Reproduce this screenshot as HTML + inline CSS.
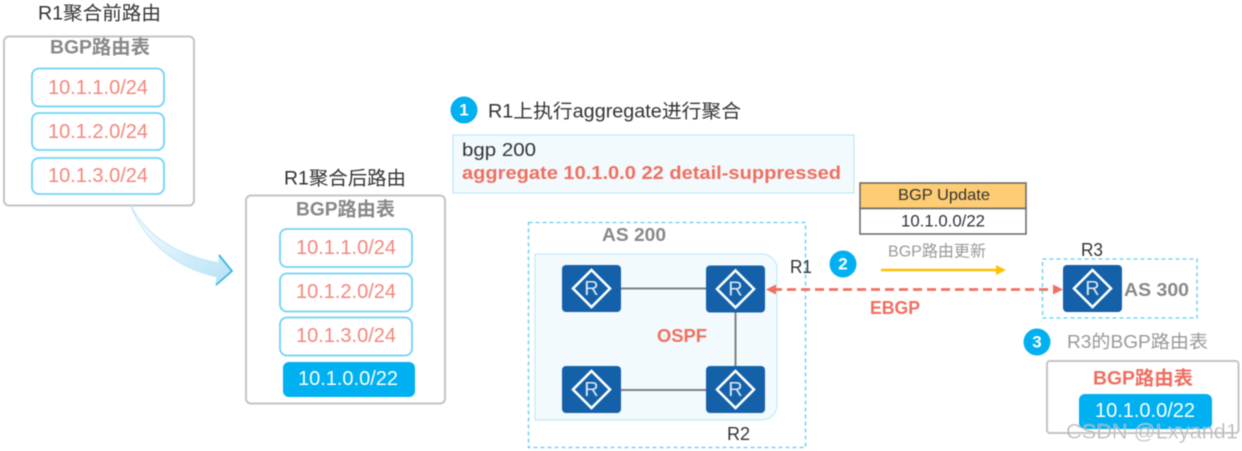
<!DOCTYPE html>
<html><head><meta charset="utf-8">
<style>
html,body{margin:0;padding:0;background:#fff;width:1242px;height:451px;overflow:hidden}
svg{display:block;filter:blur(.5px)}
text{font-family:"Liberation Sans","Noto Sans CJK SC",sans-serif;dominant-baseline:central}
.t{fill:#333;font-size:19px}
.g{fill:#888;font-size:19px;font-weight:bold}
.r{fill:#f4877c;font-size:20px;text-anchor:middle}
.w{fill:#fff;font-size:20px;text-anchor:middle}
.row{fill:#fff;stroke:#6fd3f7;stroke-width:1.8}
.box{fill:#fff;stroke:#c4c4c4;stroke-width:2}
.blue{fill:#00b0f0}
.num{fill:#fff;font-size:17px;font-weight:bold;text-anchor:middle}
.red{fill:#ef6f60;font-weight:bold;font-size:18px}
</style></head><body>
<svg width="1242" height="451" viewBox="0 0 1242 451" xmlns="http://www.w3.org/2000/svg">
<defs>
<linearGradient id="ag" x1="0" y1="0" x2="1" y2="1"><stop offset="0" stop-color="#fff"/><stop offset="1" stop-color="#b5e2f5"/></linearGradient>
<g id="rt">
<rect width="59" height="47" rx="4" fill="#1461aa"/>
<path d="M29.5 5 L48 23.5 L29.5 42 L11 23.5Z" fill="none" stroke="#fff" stroke-width="2.600"/>
<text x="29.5" y="24" fill="#dbe9f5" font-size="20" text-anchor="middle" style="font-family:'Liberation Sans',sans-serif">R</text>
</g>
</defs>

<!-- Left table -->
<text class="t" x="38" y="14" textLength="123" lengthAdjust="spacingAndGlyphs">R1聚合前路由</text>
<rect class="box" x="4" y="36.500" width="190" height="169" rx="5"/>
<text class="g" x="50" y="48" textLength="100" lengthAdjust="spacingAndGlyphs">BGP路由表</text>
<rect class="row" x="32" y="68.500" width="132" height="38" rx="7"/>
<text class="r" x="98" y="88">10.1.1.0/24</text>
<rect class="row" x="32" y="113" width="132" height="37" rx="7"/>
<text class="r" x="98" y="132">10.1.2.0/24</text>
<rect class="row" x="32" y="158" width="132" height="36" rx="7"/>
<text class="r" x="98" y="176">10.1.3.0/24</text>

<!-- Curved arrow -->
<path d="M130 204 C146 237 180 256 219 263 L219 255 L232 271 L216 285 L217 277 C178 268 146 245 130 204Z" fill="url(#ag)" stroke="#bfe6f6" stroke-width="1"/>
<path d="M219 255 L232 271 L216 285" fill="none" stroke="#3fb6e6" stroke-width="1.800"/>

<!-- Right table -->
<text class="t" x="284" y="179" textLength="122" lengthAdjust="spacingAndGlyphs">R1聚合后路由</text>
<rect class="box" x="246" y="195.500" width="199" height="208" rx="5"/>
<text class="g" x="296" y="210" textLength="99" lengthAdjust="spacingAndGlyphs">BGP路由表</text>
<rect class="row" x="280" y="229" width="132" height="38" rx="7"/>
<text class="r" x="346" y="248">10.1.1.0/24</text>
<rect class="row" x="280" y="273.500" width="132" height="38" rx="7"/>
<text class="r" x="346" y="292">10.1.2.0/24</text>
<rect class="row" x="280" y="317.500" width="132" height="38" rx="7"/>
<text class="r" x="346" y="336">10.1.3.0/24</text>
<rect class="blue" x="283" y="362" width="132" height="35" rx="6"/>
<text class="w" x="348" y="379">10.1.0.0/22</text>

<!-- Step 1 -->
<circle class="blue" cx="464" cy="110" r="13.500"/>
<text class="num" x="464" y="110">1</text>
<text class="t" x="488" y="112" textLength="253" lengthAdjust="spacingAndGlyphs">R1上执行aggregate进行聚合</text>
<rect x="453" y="135" width="401" height="58" fill="#f2fafe" stroke="#bde8fa" stroke-width="1.200"/>
<text x="462" y="150" fill="#333" font-size="18" textLength="74" lengthAdjust="spacingAndGlyphs">bgp 200</text>
<text class="red" x="462" y="173" textLength="379" lengthAdjust="spacingAndGlyphs">aggregate 10.1.0.0 22 detail-suppressed</text>

<!-- AS 200 -->
<path d="M535 254 H762 a15 15 0 0 1 15 15 V405 a15 15 0 0 1 -15 15 H535Z" fill="#f3fafd" stroke="#c3e9fa" stroke-width="1.200"/>
<rect x="528.500" y="222.500" width="277" height="225" fill="none" stroke="#5ccdf5" stroke-width="1.300" stroke-dasharray="4 3"/>
<text x="602" y="235" fill="#888" font-size="18" font-weight="bold" textLength="64" lengthAdjust="spacingAndGlyphs">AS 200</text>
<g stroke="#808080" stroke-width="2" fill="none">
<path d="M620 288.500 H707"/>
<path d="M735.500 311 V367"/>
<path d="M620 390 H707"/>
</g>
<use href="#rt" x="562" y="265"/>
<use href="#rt" x="706" y="265.500"/>
<use href="#rt" x="562" y="366"/>
<use href="#rt" x="706" y="366"/>
<text class="red" x="657" y="336" font-size="19" textLength="50" lengthAdjust="spacingAndGlyphs">OSPF</text>
<text class="t" x="790" y="267" style="font-size:18px" textLength="22" lengthAdjust="spacingAndGlyphs">R1</text>
<text class="t" x="727" y="434" style="font-size:18px" textLength="23" lengthAdjust="spacingAndGlyphs">R2</text>

<!-- EBGP link -->
<path d="M773 289.500 H1054" stroke="#ef6f60" stroke-width="2.800" stroke-dasharray="9 5" fill="none"/>
<path d="M766 289.500 L776 284.500 V294.500Z" fill="#ef6f60"/>
<path d="M1063 289.500 L1053 284.500 V294.500Z" fill="#ef6f60"/>
<text class="red" x="870" y="308" textLength="50" lengthAdjust="spacingAndGlyphs">EBGP</text>

<!-- Step 2 -->
<circle class="blue" cx="843" cy="264" r="13.500"/>
<text class="num" x="843" y="264">2</text>
<rect x="860" y="183" width="166" height="25.500" fill="#fdcc73" stroke="#666" stroke-width="1.500"/>
<rect x="860" y="208.500" width="166" height="25.500" fill="#fff" stroke="#666" stroke-width="1.500"/>
<text x="898" y="195.500" fill="#333" font-size="16" textLength="92" lengthAdjust="spacingAndGlyphs">BGP Update</text>
<text x="901" y="221" fill="#333" font-size="17" textLength="84" lengthAdjust="spacingAndGlyphs">10.1.0.0/22</text>
<text x="888" y="252" fill="#999" font-size="16" textLength="98" lengthAdjust="spacingAndGlyphs">BGP路由更新</text>
<path d="M881 270 H998" stroke="#ffc000" stroke-width="2.400" fill="none"/>
<path d="M1006 270 L996 265 V275Z" fill="#ffc000"/>

<!-- AS 300 -->
<text class="t" x="1081" y="250" style="font-size:18px" textLength="22" lengthAdjust="spacingAndGlyphs">R3</text>
<rect x="1042.500" y="259" width="154.500" height="59" fill="none" stroke="#5ccdf5" stroke-width="1.300" stroke-dasharray="4 3"/>
<use href="#rt" x="1063" y="265"/>
<text x="1124" y="290" fill="#888" font-size="18" font-weight="bold" textLength="65" lengthAdjust="spacingAndGlyphs">AS 300</text>

<!-- Step 3 -->
<circle class="blue" cx="1037" cy="342" r="13.500"/>
<text class="num" x="1037" y="342">3</text>
<text x="1067" y="342" fill="#999" font-size="18" textLength="141" lengthAdjust="spacingAndGlyphs">R3的BGP路由表</text>
<rect class="box" x="1047" y="361" width="191.500" height="72" rx="3"/>
<text class="red" x="1093" y="379" style="font-size:19px" textLength="100" lengthAdjust="spacingAndGlyphs">BGP路由表</text>
<rect class="blue" x="1079" y="394" width="133" height="35" rx="6"/>
<text class="w" x="1145" y="411">10.1.0.0/22</text>
<text x="1066" y="432" fill="#a0a0a0" fill-opacity=".75" font-size="21" textLength="172" lengthAdjust="spacingAndGlyphs" stroke="#fff" stroke-width=".3">CSDN @Lxyand1</text>
</svg>
</body></html>
